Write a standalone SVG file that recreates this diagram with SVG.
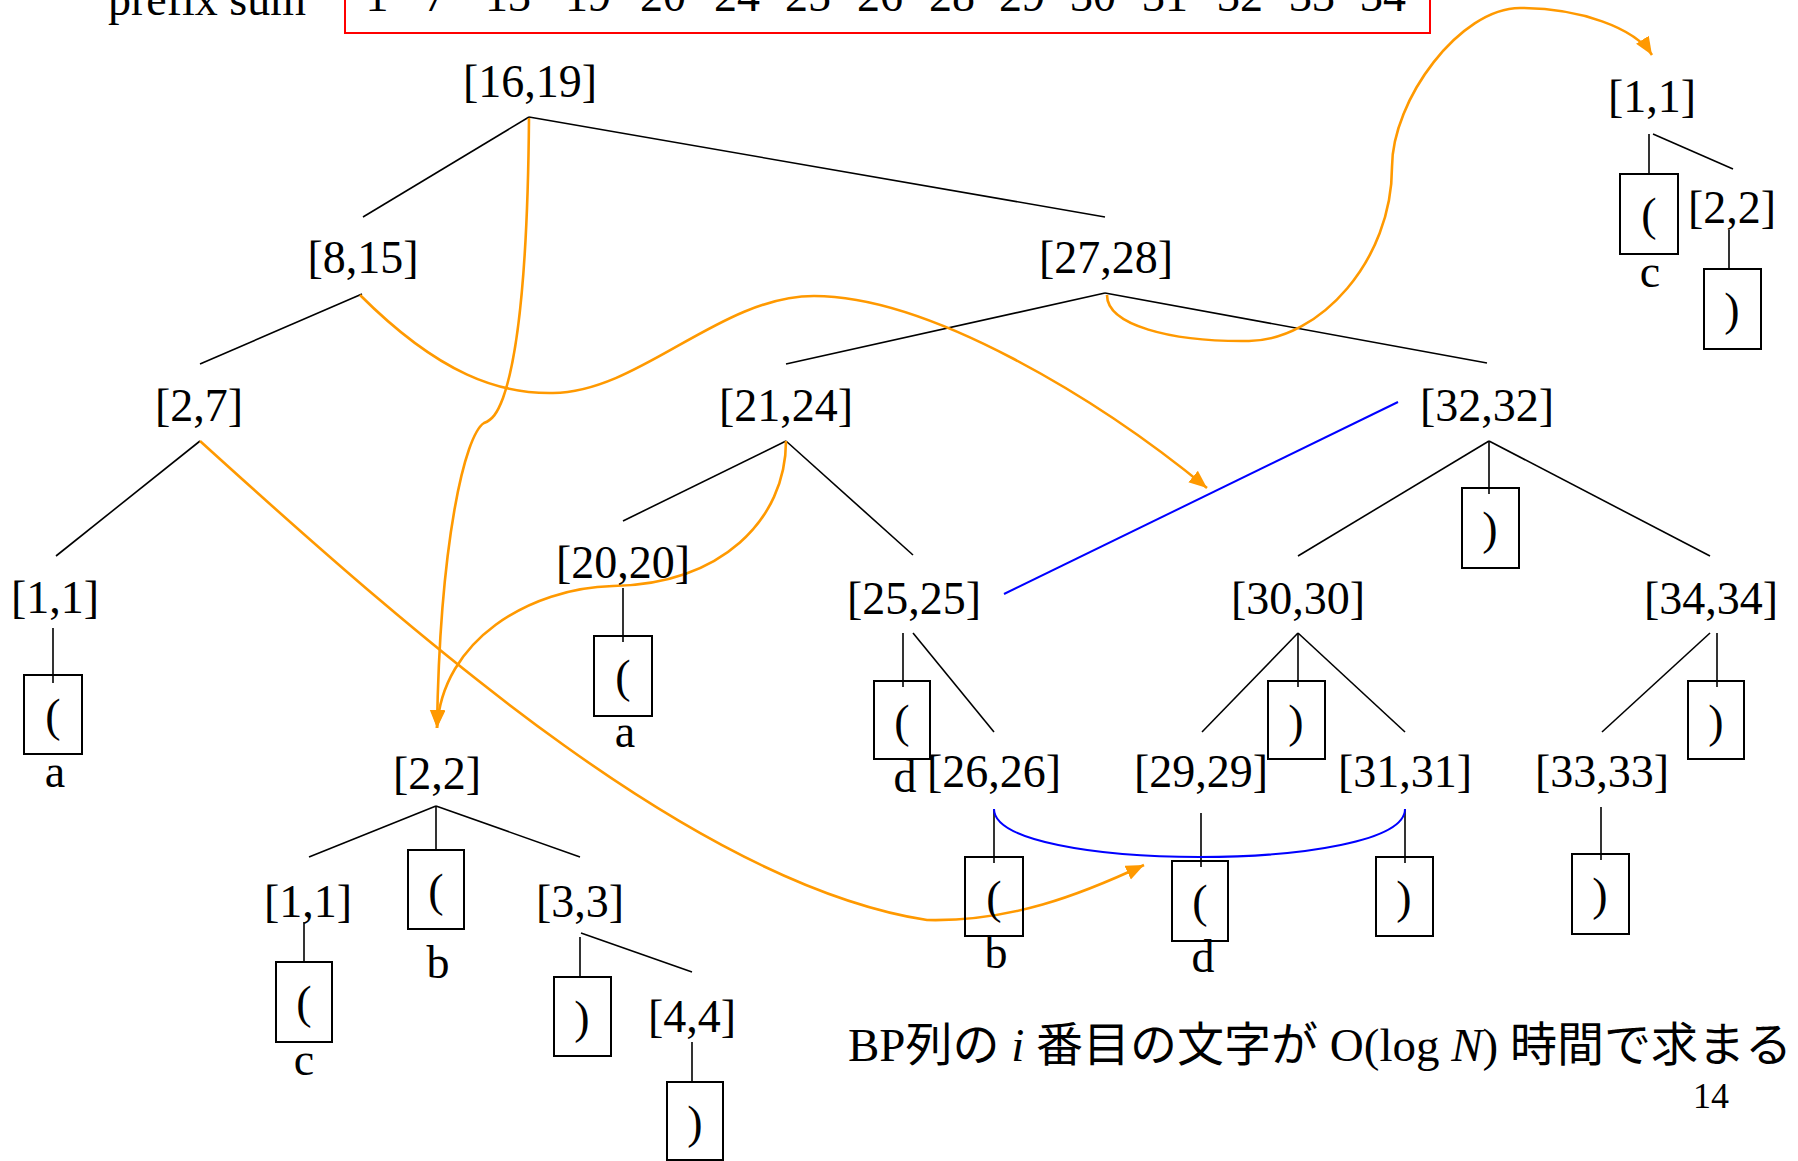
<svg xmlns="http://www.w3.org/2000/svg" width="1798" height="1161" viewBox="0 0 1798 1161">
<style>
text{font-family:"Liberation Serif","Times New Roman",serif;font-size:46px;fill:#000;text-anchor:middle}
.bx{fill:none;stroke:#000;stroke-width:2}
.e{stroke:#000;stroke-width:1.6;fill:none}
.o{stroke:#FF9900;stroke-width:2.6;fill:none}
.b{stroke:#0000FF;stroke-width:2;fill:none}
.cap{font-family:"Liberation Serif","Noto Sans CJK JP",serif;font-size:47px;text-anchor:start}
</style>
<defs>
<marker id="ah" markerUnits="userSpaceOnUse" markerWidth="20" markerHeight="16" refX="18" refY="7.5" orient="auto">
<path d="M0,0 L18,7.5 L0,15 z" fill="#FF9900"/>
</marker>
</defs>
<rect width="1798" height="1161" fill="#fff"/>
<g id="prefix-sum">
<text x="207" y="15">prefix sum</text>
<rect x="345" y="-10" width="1085" height="43" fill="none" stroke="#FF0000" stroke-width="2"/>
<text x="377" y="11">1</text><text x="435" y="11">7</text><text x="508" y="11">13</text><text x="588" y="11">19</text><text x="663" y="11">20</text><text x="737" y="11">24</text><text x="808" y="11">25</text><text x="880" y="11">26</text><text x="952" y="11">28</text><text x="1022" y="11">29</text><text x="1093" y="11">30</text><text x="1165" y="11">31</text><text x="1240" y="11">32</text><text x="1312" y="11">33</text><text x="1383" y="11">34</text>
</g>
<g id="connectors">
<line class="e" x1="529" y1="117" x2="363" y2="217"/>
<line class="e" x1="529" y1="117" x2="1105" y2="217"/>
<line class="e" x1="362" y1="294" x2="200" y2="364"/>
<line class="e" x1="1105" y1="293" x2="786" y2="364"/>
<line class="e" x1="1105" y1="293" x2="1487" y2="363"/>
<line class="e" x1="200" y1="441" x2="56" y2="556"/>
<line class="e" x1="786" y1="441" x2="623" y2="521"/>
<line class="e" x1="786" y1="441" x2="913" y2="555"/>
<line class="e" x1="1489" y1="441" x2="1298" y2="556"/>
<line class="e" x1="1489" y1="441" x2="1489" y2="494"/>
<line class="e" x1="1489" y1="441" x2="1710" y2="556"/>
<line class="e" x1="1649" y1="134" x2="1649" y2="174"/>
<line class="e" x1="1653" y1="134" x2="1733" y2="169"/>
<line class="e" x1="1729" y1="230" x2="1729" y2="269"/>
<line class="e" x1="53" y1="628" x2="53" y2="683"/>
<line class="e" x1="623" y1="588" x2="623" y2="642"/>
<line class="e" x1="903" y1="633" x2="903" y2="687"/>
<line class="e" x1="913" y1="633" x2="994" y2="732"/>
<line class="e" x1="1298" y1="633" x2="1202" y2="732"/>
<line class="e" x1="1298" y1="633" x2="1298" y2="687"/>
<line class="e" x1="1298" y1="633" x2="1405" y2="732"/>
<line class="e" x1="1710" y1="633" x2="1602" y2="732"/>
<line class="e" x1="1717" y1="633" x2="1717" y2="687"/>
<line class="e" x1="436" y1="806" x2="309" y2="857"/>
<line class="e" x1="436" y1="806" x2="436" y2="850"/>
<line class="e" x1="436" y1="806" x2="580" y2="857"/>
<line class="e" x1="994" y1="809" x2="994" y2="863"/>
<line class="e" x1="1201" y1="813" x2="1201" y2="867"/>
<line class="e" x1="1405" y1="809" x2="1405" y2="863"/>
<line class="e" x1="1601" y1="807" x2="1601" y2="860"/>
<line class="e" x1="304" y1="922" x2="304" y2="962"/>
<line class="e" x1="580" y1="937" x2="580" y2="977"/>
<line class="e" x1="581" y1="933" x2="692" y2="972"/>
<line class="e" x1="692" y1="1042" x2="692" y2="1082"/>
<line class="b" x1="1004" y1="594" x2="1398" y2="402"/>
<path class="b" d="M994,809 C994,873 1405,873 1405,809"/>
<path class="o" marker-end="url(#ah)" d="M529,118 C528,240 522,345 503,398 C497,414 492,420 484,423 C465,435 440,540 437,728"/>
<path class="o" marker-end="url(#ah)" d="M786,441 C786,520 720,585 613,586 C530,588 442,640 437,728"/>
<path class="o" marker-end="url(#ah)" d="M360,295 C440,375 500,394 553,393 C640,392 720,296 814,296 C930,296 1100,400 1207,488"/>
<path class="o" marker-end="url(#ah)" d="M200,441 C430,650 700,885 927,920 C1010,922 1080,895 1144,865"/>
<path class="o" marker-end="url(#ah)" d="M1107,295 C1107,325 1170,342 1249,341 C1320,340 1392,260 1392,167 C1392,100 1460,8 1520,8 C1580,8 1635,28 1652,55"/>
</g>
<g id="n16-19"><text x="530" y="97">[16,19]</text></g>
<g id="n8-15"><text x="363" y="273">[8,15]</text></g>
<g id="n27-28"><text x="1106" y="273">[27,28]</text></g>
<g id="n1-1-tr"><text x="1652" y="112">[1,1]</text><rect class="bx" x="1620" y="174" width="58" height="80"/><text x="1649" y="230">(</text><text x="1650" y="287">c</text></g>
<g id="n2-2-tr"><text x="1732" y="223">[2,2]</text><rect class="bx" x="1704" y="269" width="57" height="80"/><text x="1732" y="325">)</text></g>
<g id="n2-7"><text x="199" y="421">[2,7]</text></g>
<g id="n21-24"><text x="786" y="421">[21,24]</text></g>
<g id="n32-32"><text x="1487" y="421">[32,32]</text><rect class="bx" x="1462" y="488" width="57" height="80"/><text x="1490" y="544">)</text></g>
<g id="n1-1-a"><text x="55" y="613">[1,1]</text><rect class="bx" x="24" y="675" width="58" height="79"/><text x="53" y="731">(</text><text x="55" y="787">a</text></g>
<g id="n20-20"><text x="623" y="578">[20,20]</text><rect class="bx" x="594" y="636" width="58" height="80"/><text x="623" y="692">(</text><text x="625" y="747">a</text></g>
<g id="n25-25"><text x="914" y="614">[25,25]</text><rect class="bx" x="874" y="681" width="56" height="78"/><text x="902" y="737">(</text><text x="905" y="792">d</text></g>
<g id="n30-30"><text x="1298" y="614">[30,30]</text><rect class="bx" x="1268" y="681" width="57" height="78"/><text x="1296" y="737">)</text></g>
<g id="n34-34"><text x="1711" y="614">[34,34]</text><rect class="bx" x="1688" y="681" width="56" height="78"/><text x="1716" y="737">)</text></g>
<g id="n2-2"><text x="437" y="789">[2,2]</text><rect class="bx" x="408" y="850" width="56" height="79"/><text x="436" y="906">(</text><text x="438" y="978">b</text></g>
<g id="n26-26"><text x="994" y="787">[26,26]</text><rect class="bx" x="965" y="857" width="58" height="79"/><text x="994" y="913">(</text><text x="996" y="968">b</text></g>
<g id="n29-29"><text x="1201" y="787">[29,29]</text><rect class="bx" x="1172" y="861" width="56" height="80"/><text x="1200" y="917">(</text><text x="1203" y="972">d</text></g>
<g id="n31-31"><text x="1405" y="787">[31,31]</text><rect class="bx" x="1376" y="857" width="57" height="79"/><text x="1404" y="913">)</text></g>
<g id="n33-33"><text x="1602" y="787">[33,33]</text><rect class="bx" x="1572" y="854" width="57" height="80"/><text x="1600" y="910">)</text></g>
<g id="n1-1-c"><text x="308" y="917">[1,1]</text><rect class="bx" x="276" y="962" width="56" height="80"/><text x="304" y="1018">(</text><text x="304" y="1075">c</text></g>
<g id="n3-3"><text x="580" y="917">[3,3]</text><rect class="bx" x="554" y="977" width="57" height="79"/><text x="582" y="1033">)</text></g>
<g id="n4-4"><text x="692" y="1032">[4,4]</text><rect class="bx" x="667" y="1082" width="56" height="78"/><text x="695" y="1138">)</text></g>
<g id="caption"><text class="cap" x="848" y="1061">BP列の <tspan font-style="italic">i</tspan> 番目の文字が O(log <tspan font-style="italic">N</tspan>) 時間で求まる</text></g>
<g id="page"><text x="1711" y="1108" style="font-size:36px">14</text></g>
</svg>
